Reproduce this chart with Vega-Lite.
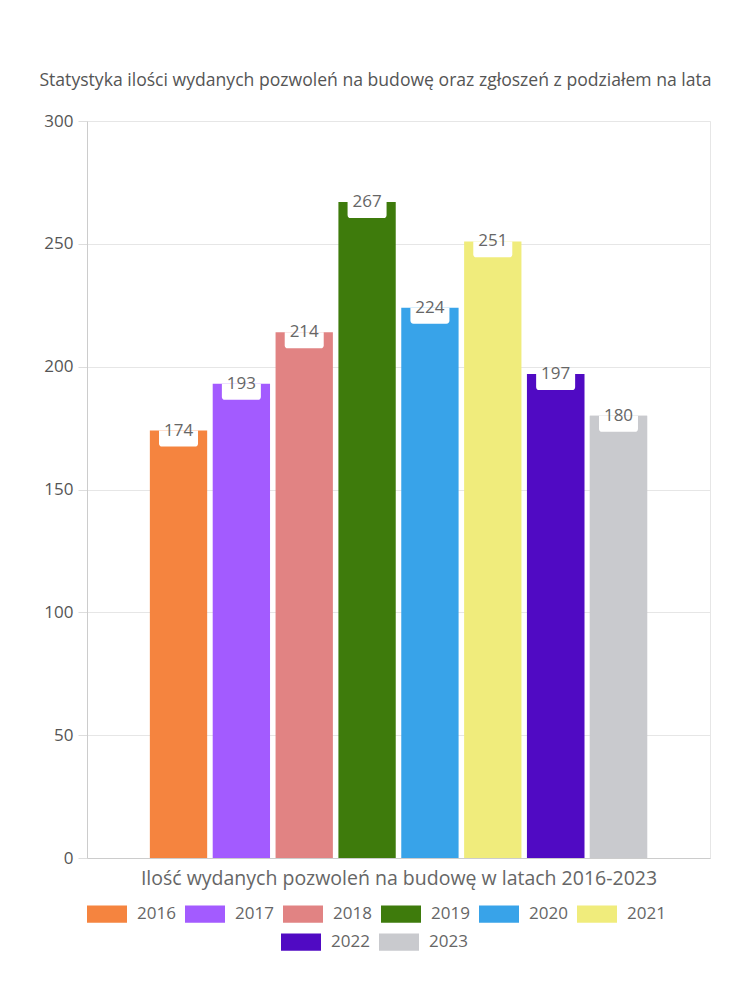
{
  "$schema": "https://vega.github.io/schema/vega-lite/v6.json",
  "autosize": {"type": "none"},
  "padding": {"left": 87, "top": 121, "right": 40, "bottom": 142},
  "width": 623,
  "height": 737,
  "title": {
    "text": "Statystyka ilości wydanych pozwoleń na budowę oraz zgłoszeń z podziałem na lata",
    "fontSize": 17.6,
    "font": "Open Sans",
    "fontWeight": "normal",
    "color": "#555555",
    "anchor": "middle",
    "dx": -23,
    "offset": 22
  },
  "data": {
    "values": [
      {"year": "2016", "value": 174},
      {"year": "2017", "value": 193},
      {"year": "2018", "value": 214},
      {"year": "2019", "value": 267},
      {"year": "2020", "value": 224},
      {"year": "2021", "value": 251},
      {"year": "2022", "value": 197},
      {"year": "2023", "value": 180}
    ]
  },
  "encoding": {
    "x": {
      "field": "year",
      "type": "nominal",
      "sort": null,
      "scale": {"paddingInner": 0.088, "paddingOuter": 1.03},
      "axis": {
        "labels": false,
        "ticks": false,
        "grid": false,
        "title": "Ilość wydanych pozwoleń na budowę w latach 2016-2023",
        "titlePadding": 11,
        "titleFontSize": 19.5,
        "titleFont": "Open Sans",
        "titleFontWeight": "normal",
        "titleColor": "#666666"
      }
    },
    "y": {
      "field": "value",
      "type": "quantitative",
      "scale": {"domain": [0, 300]},
      "axis": {
        "title": null,
        "values": [0, 50, 100, 150, 200, 250, 300],
        "tickSize": 9,
        "labelPadding": 5,
        "grid": true
      }
    }
  },
  "layer": [
    {
      "mark": {"type": "bar"},
      "encoding": {
        "color": {
          "field": "year",
          "type": "nominal",
          "scale": {
            "domain": ["2016", "2017", "2018", "2019", "2020", "2021", "2022", "2023"],
            "range": ["#f5843f", "#a35bff", "#e18383", "#3e7b0c", "#38a3e9", "#f0ec7c", "#500ac3", "#c9cace"]
          },
          "legend": {
            "title": null,
            "values": ["2016", "2017", "2018", "2019", "2020", "2021"],
            "orient": "none",
            "direction": "horizontal",
            "legendX": 0,
            "legendY": 773
          }
        }
      }
    },
    {
      "transform": [{"filter": "datum.year == '2022' || datum.year == '2023'"}],
      "mark": {"type": "bar"},
      "encoding": {
        "fill": {
          "field": "year",
          "type": "nominal",
          "scale": {
            "domain": ["2022", "2023"],
            "range": ["#500ac3", "#c9cace"]
          },
          "legend": {
            "title": null,
            "orient": "none",
            "direction": "horizontal",
            "legendX": 194,
            "legendY": 801
          }
        }
      }
    },
    {
      "mark": {
        "type": "point",
        "shape": "M-1,0L1,0L1,0.66Q1,0.82 0.84,0.82L-0.84,0.82Q-1,0.82 -1,0.66Z",
        "size": 1521,
        "filled": true,
        "fill": "#ffffff",
        "opacity": 1,
        "strokeWidth": 0
      }
    },
    {
      "mark": {
        "type": "text",
        "baseline": "middle",
        "fontSize": 17,
        "font": "Open Sans",
        "color": "#666666"
      },
      "encoding": {"text": {"field": "value", "type": "quantitative"}}
    }
  ],
  "config": {
    "view": {"stroke": "#e6e6e6"},
    "axis": {
      "domainColor": "#cccccc",
      "gridColor": "#e6e6e6",
      "tickColor": "#dddddd",
      "labelColor": "#555555",
      "labelFontSize": 17,
      "labelFont": "Open Sans"
    },
    "legend": {
      "symbolType": "M-1,-0.43H1V0.43H-1Z",
      "symbolSize": 1600,
      "symbolStrokeWidth": 0,
      "symbolOpacity": 1,
      "labelFontSize": 17,
      "labelColor": "#666666",
      "labelFont": "Open Sans",
      "labelOffset": 10,
      "columnPadding": 9,
      "padding": 0
    }
  }
}
